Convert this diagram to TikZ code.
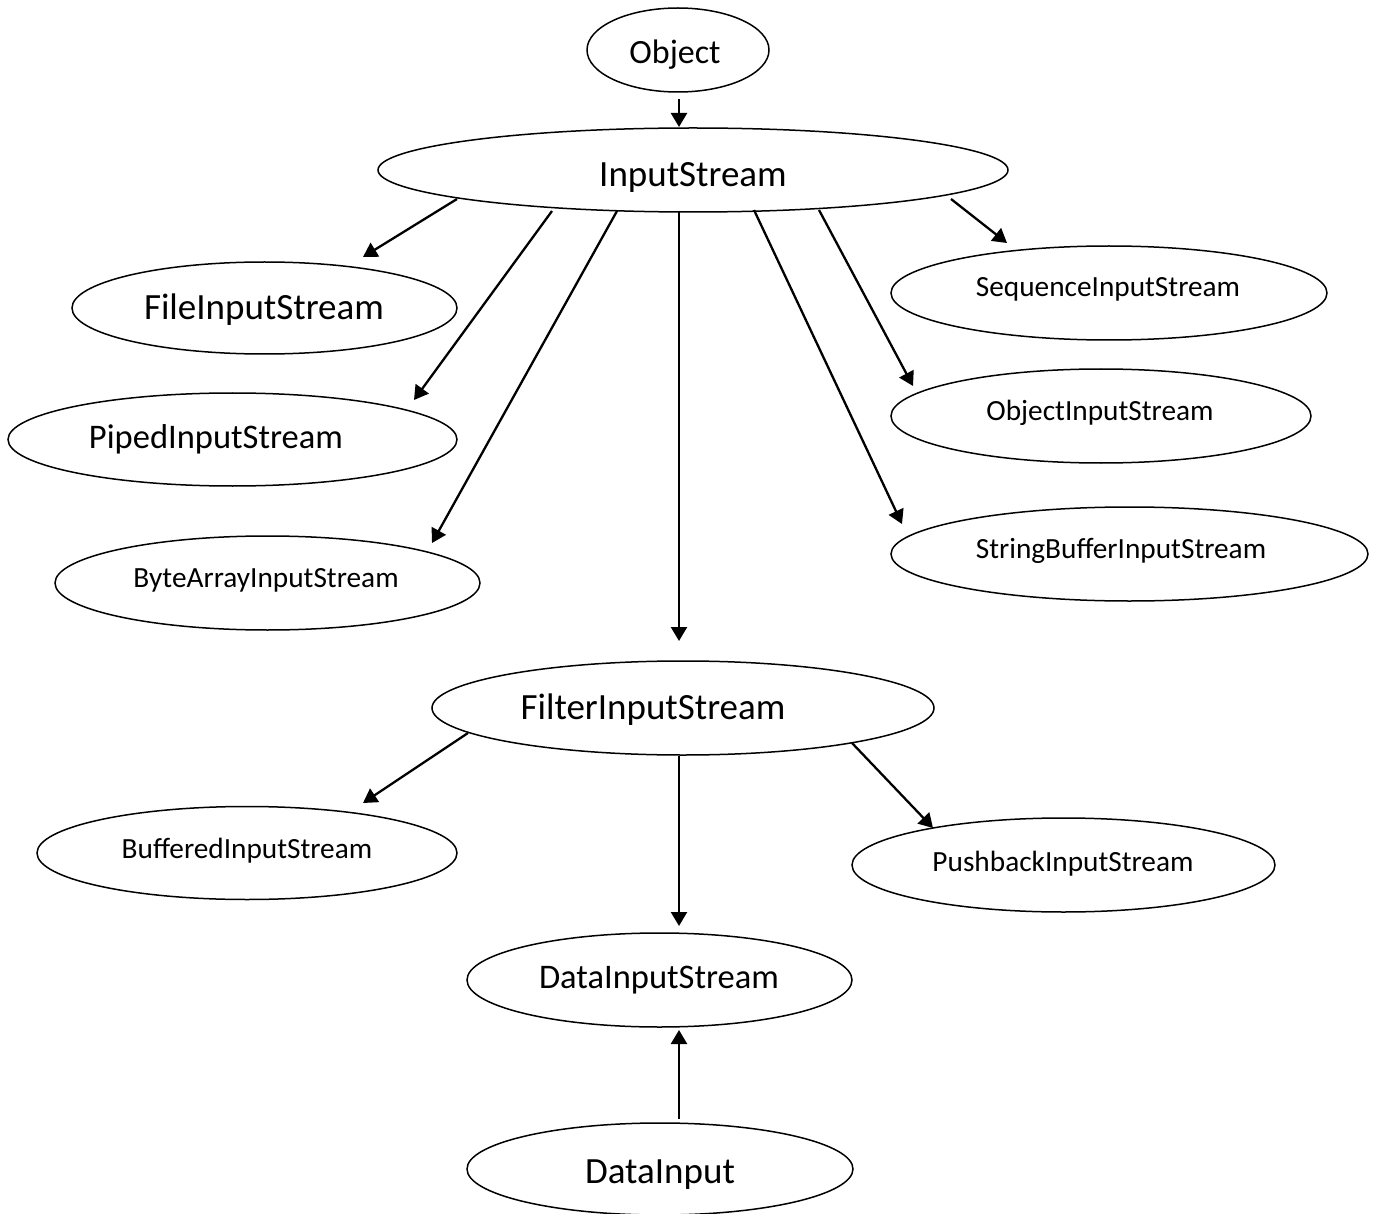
\documentclass[tikz,border=0pt]{standalone}
\usepackage{fontspec}
\setmainfont{Carlito}
\usetikzlibrary{shapes.geometric,arrows.meta}

\begin{document}
\begin{tikzpicture}[x=1pt,y=-1pt,
  oval/.style n args={2}{draw, ellipse, line width=1.5pt, inner sep=0pt,
    minimum width=#1pt, minimum height=#2pt},
  lab/.style={inner sep=0pt, anchor=base, font=\fontsize{#1}{#1}\selectfont},
  arr/.style={line width=2.3pt, -{Triangle[length=14pt,width=16pt]}}]

\fill[white] (0,0) rectangle (1376,1214);
\useasboundingbox (0,0) rectangle (1376,1214);

% class hierarchy nodes
\node[oval={182}{84}, label={[lab=34, shift={(-3,4.7)}]center:Object}] (obj) at (678,50) {};
\node[oval={630}{84}, label={[lab=37, shift={(0,7)}]center:InputStream}] (is) at (693,170) {};

\node[oval={385}{92}, label={[lab=37, shift={(-0.5,2)}]center:FileInputStream}] (fis) at (264.5,308) {};
\node[oval={449}{93}, label={[lab=34.5, shift={(-16.5,0.3)}]center:PipedInputStream}] (pis) at (232.5,439.5) {};
\node[oval={425}{94}, label={[lab=29.3, shift={(-1.5,-2.6)}]center:ByteArrayInputStream}] (bais) at (267.5,583) {};

\node[oval={436}{94}, label={[lab=29.3, shift={(-1,-3.6)}]center:SequenceInputStream}] (sis) at (1109,293) {};
\node[oval={420}{94}, label={[lab=29.3, shift={(-1,-3.6)}]center:ObjectInputStream}] (ois) at (1101,416) {};
\node[oval={477}{94}, label={[lab=29.3, shift={(-8.5,-3.6)}]center:StringBufferInputStream}] (sbis) at (1129.5,554) {};

\node[oval={502}{94}, label={[lab=37, shift={(-30,2)}]center:FilterInputStream}] (filt) at (683,708) {};
\node[oval={420}{93}, label={[lab=29.3, shift={(0,-2.6)}]center:BufferedInputStream}] (bis) at (247,853) {};
\node[oval={423}{94}, label={[lab=29.3, shift={(-0.5,-1.6)}]center:PushbackInputStream}] (pbis) at (1063.5,865) {};

\node[oval={385}{94}, label={[lab=34.5, shift={(-0.5,-0.2)}]center:DataInputStream}] (dis) at (659.5,980) {};
\node[oval={386}{92}, label={[lab=37, shift={(0,6)}]center:DataInput}] (di) at (660,1169) {};

% inheritance arrows
\draw[arr] ([shift={(1,49)}]obj.center) -- ([shift={(-14,-43)}]is.center);
\draw[arr] ([shift={(-236,29)}]is.center) -- ([shift={(98.5,-51)}]fis.center);
\draw[arr] ([shift={(-141,41)}]is.center) -- ([shift={(181.5,-39.5)}]pis.center);
\draw[arr] ([shift={(-76,41)}]is.center) -- ([shift={(164.5,-40)}]bais.center);
\draw[arr] ([shift={(-14,41)}]is.center) -- ([shift={(-4,-67)}]filt.center);
\draw[arr] ([shift={(61,40)}]is.center) -- ([shift={(-227.5,-30)}]sbis.center);
\draw[arr] ([shift={(126,40)}]is.center) -- ([shift={(-188,-30)}]ois.center);
\draw[arr] ([shift={(258,29)}]is.center) -- ([shift={(-102,-50)}]sis.center);

\draw[arr] ([shift={(-215,25)}]filt.center) -- ([shift={(116,-50)}]bis.center);
\draw[arr] ([shift={(169,35)}]filt.center) -- ([shift={(-130.5,-37)}]pbis.center);
\draw[arr] ([shift={(-4,48)}]filt.center) -- ([shift={(19.5,-54)}]dis.center);

\draw[arr] ([shift={(19,-50)}]di.center) -- ([shift={(19.5,50)}]dis.center);
\end{tikzpicture}
\end{document}
